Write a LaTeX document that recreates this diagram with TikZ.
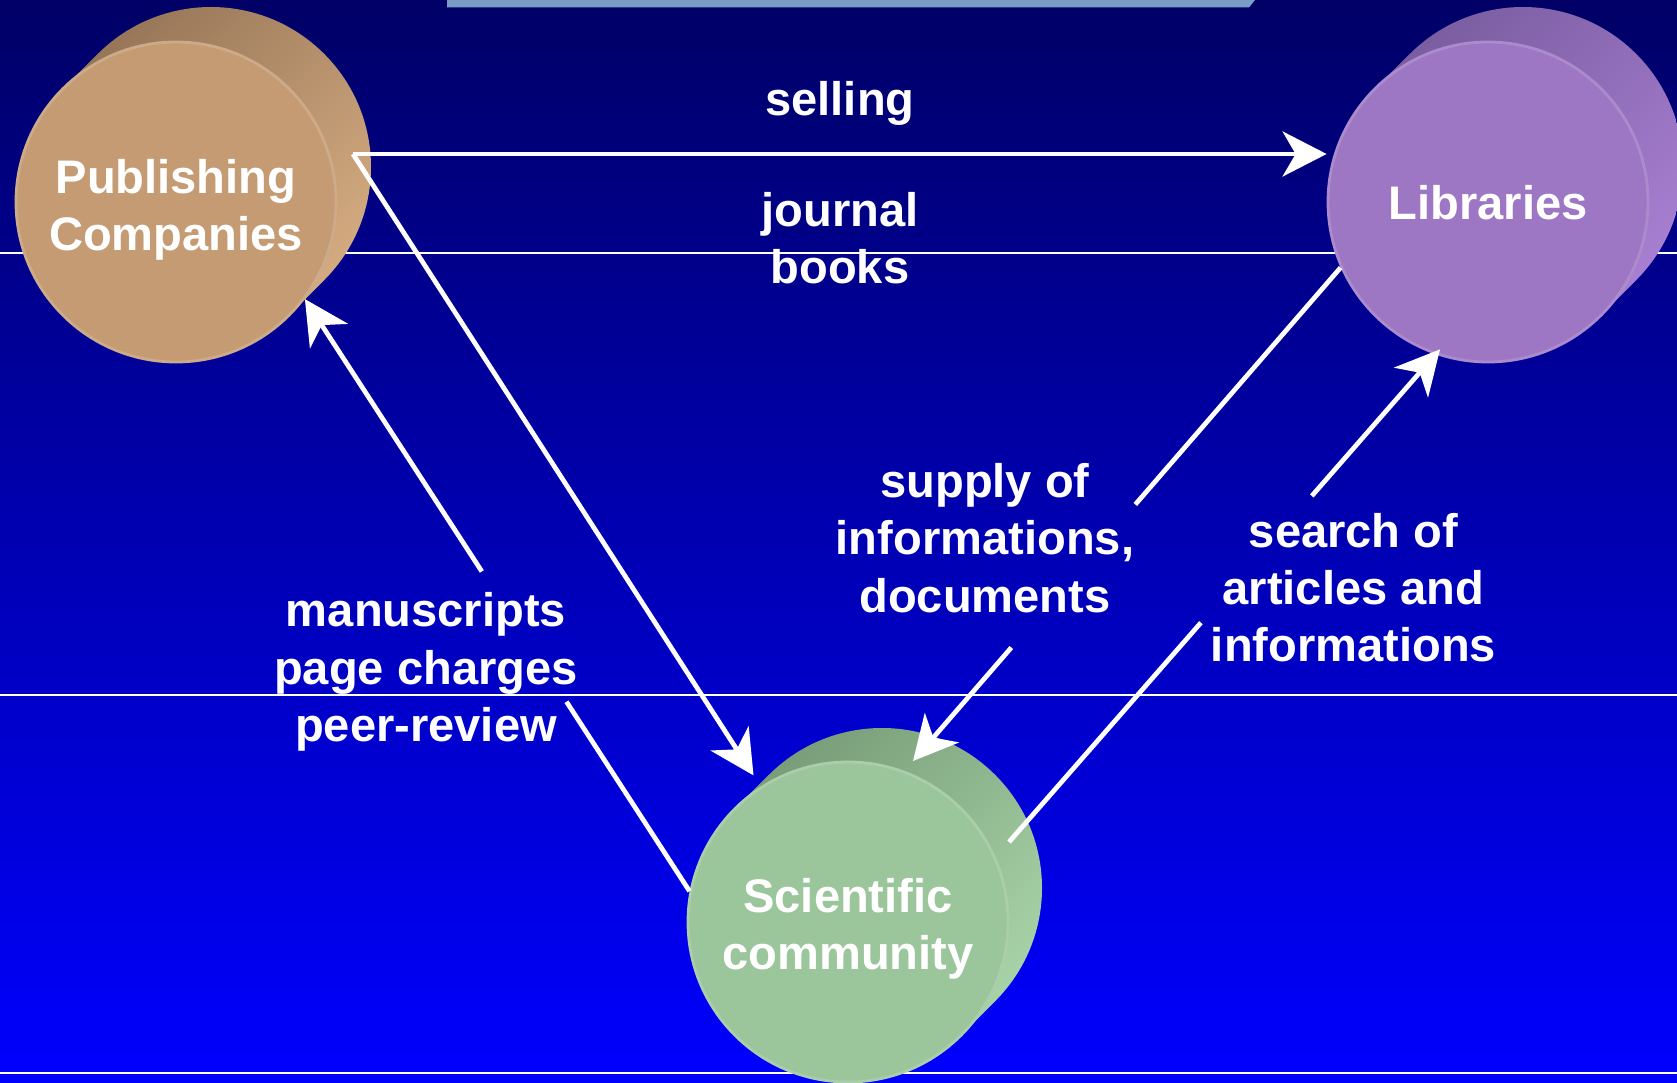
\documentclass[tikz,border=0pt]{standalone}
\usepackage{fontspec}
\setmainfont{Liberation Sans}
\usetikzlibrary{arrows.meta,calc}
\definecolor{Top}{RGB}{0, 0, 102}
\definecolor{Bot}{RGB}{0, 0, 255}
\definecolor{Bar}{RGB}{122, 156, 198}
\definecolor{P}{RGB}{196, 155, 115}
\definecolor{Pdark}{RGB}{145, 113, 84}
\definecolor{Plight}{RGB}{218, 176, 132}
\definecolor{L}{RGB}{157, 118, 196}
\definecolor{Ldark}{RGB}{118, 90, 156}
\definecolor{Llight}{RGB}{172, 130, 214}
\definecolor{S}{RGB}{155, 197, 155}
\definecolor{Sdark}{RGB}{116, 152, 116}
\definecolor{Slight}{RGB}{172, 216, 172}

\tikzset{
  txt/.style={text=white, font=\fontsize{13.4pt}{16.3pt}\selectfont\bfseries,
    align=center, inner sep=0pt},
  disc/.style={circle, minimum size=3.2cm, inner sep=0pt, line width=0.8pt},
  link/.style={white, line width=1.35pt},
  arr/.style={link, -{Stealth[length=0.44cm, width=0.45cm, inset=0.13cm]}},
  rule/.style={white, line width=0.6pt}
}

\begin{document}
\begin{tikzpicture}
  \useasboundingbox (0,0) rectangle (16.77,10.82);
  \clip (0,0) rectangle (16.77,10.82);
  \shade[top color=Top, bottom color=Bot] (0,0) rectangle (16.77,10.82);
  \fill[Bar] (4.47,10.82) -- (12.55,10.82) -- (12.49,10.745) -- (4.47,10.745) -- cycle;
  \draw[rule] (0,8.29) -- (16.77,8.29);
  \draw[rule] (0,3.87) -- (16.77,3.87);
  \draw[rule] (0,0.09) -- (16.77,0.09);

  % drum sides
  \shade[top color=Pdark, bottom color=Plight, shading angle=45]
    (1.76,8.80) ++(135:1.6) -- ++(0.35,0.35) arc[start angle=135, end angle=-45, radius=1.6]
    -- ++(-0.35,-0.35) arc[start angle=-45, end angle=-225, radius=1.6] -- cycle;
  \shade[top color=Ldark, bottom color=Llight, shading angle=45]
    (14.88,8.80) ++(135:1.6) -- ++(0.35,0.35) arc[start angle=135, end angle=-45, radius=1.6]
    -- ++(-0.35,-0.35) arc[start angle=-45, end angle=-225, radius=1.6] -- cycle;
  \shade[top color=Sdark, bottom color=Slight, shading angle=45]
    (8.48,1.60) ++(135:1.6) -- ++(0.34,0.34) arc[start angle=135, end angle=-45, radius=1.6]
    -- ++(-0.34,-0.34) arc[start angle=-45, end angle=-225, radius=1.6] -- cycle;

  % drum faces
  \node[disc, fill=P, draw=P!85!white] (pc) at (1.76,8.80) {};
  \node[disc, fill=L, draw=L!85!white] (lib) at (14.88,8.80) {};
  \node[disc, fill=S, draw=S!85!white] (sc) at (8.48,1.60) {};
  \node[txt, yshift=-0.075cm] (pcname) at (pc) {Publishing\\Companies};
  \node[txt, yshift=-0.01cm] (libname) at (lib) {Libraries};
  \node[txt, yshift=-0.07cm] (scname) at (sc) {Scientific\\community};

  % labels
  \node[txt] (sell) at (8.40,9.79) {selling};
  \node[txt] (goods) at (8.40,8.44) {journal\\books};
  \node[txt] (supply) at (9.85,5.44) {supply of\\informations,\\documents};
  \node[txt] (search) at (13.535,4.945) {search of\\articles and\\informations};
  \node[txt] (manu) at (4.26,4.10) {manuscripts\\page charges\\peer-review};

  \coordinate (pcout) at (3.53,9.28);
  \coordinate (scsup) at (9.13,3.21);
  \coordinate (scout) at (10.09,2.40);

  % flows
  \draw[arr] (pcout) -- (pcout -| lib.west);
  \draw[arr, shorten >=0.13cm] (pcout) -- (sc);
  \draw[link] (sc.169) -- ($(sc.169)!0.32!(pc.-37)$);
  \draw[arr] ($(sc.169)!0.54!(pc.-37)$) -- (pc.-37);
  \draw[link] (lib.204) -- ($(lib.204)!0.48!(scsup)$);
  \draw[arr] ($(lib.204)!0.77!(scsup)$) -- (scsup);
  \draw[link] (scout) -- ($(scout)!0.45!(lib.251)$);
  \draw[arr, shorten >=-0.07cm] ($(scout)!0.71!(lib.251)$) -- (lib.251);
\end{tikzpicture}
\end{document}
